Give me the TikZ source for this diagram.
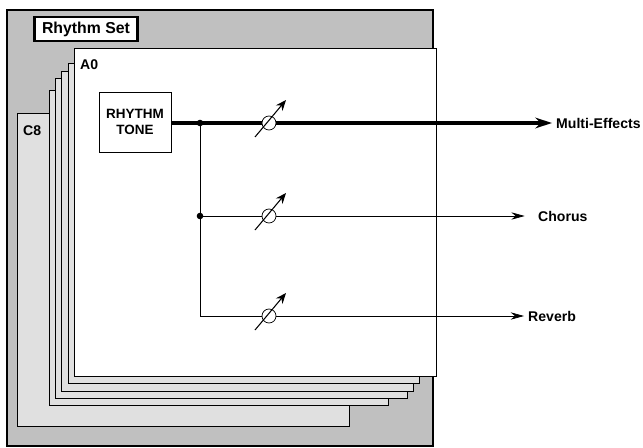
\documentclass[tikz,border=0pt]{standalone}
\usepackage{fontspec}
\setmainfont{Liberation Sans}
\usetikzlibrary{arrows.meta}
\definecolor{setgray}{HTML}{C0C0C0}
\definecolor{pagegray}{HTML}{E0E0E0}

\begin{document}
\begin{tikzpicture}[
    x=0.03cm, y=-0.03cm,
    page/.style={
        draw=black,
        fill=pagegray,
        line width=0.8pt
    },
    label/.style={
        font=\fontsize{12}{13}\selectfont\bfseries,
        anchor=west,
        inner sep=0pt
    },
    sig/.style={
        -{Stealth[length=4mm,width=2.2mm]},
        line width=0.6pt
    },
    knob/.style={
        circle,
        draw=black,
        fill=white,
        line width=0.6pt,
        minimum size=0.42cm,
        inner sep=0pt
    }
]
\useasboundingbox (0,0) rectangle (643,448);

% rhythm set frame
\draw[line width=1.4pt, fill=setgray] (7,10) rectangle (433,446);
\node[draw, line width=2pt, fill=white, font=\fontsize{13.5}{14}\selectfont\bfseries,
    minimum width=3.1cm, minimum height=0.72cm, inner sep=0pt] (setname) at (86,29) {Rhythm Set};

% stacked pages
\draw[page] (17,113) rectangle (349,426);
\draw[page] (49,90) rectangle (388,405);
\draw[page] (55,78) rectangle (407,398);
\draw[page] (61,71) rectangle (413,391);
\draw[page] (68,63) rectangle (419,383);
\draw[page, fill=white] (74,48) rectangle (436,376);
\node[label] (c8) at (23,131) {C8};
\node[label] (a0) at (80,65) {A0};

% tone block
\node[draw, line width=0.8pt, fill=white, minimum width=2.16cm, minimum height=1.8cm,
    align=center, font=\fontsize{11.5}{13}\selectfont\bfseries] (tone) at (135,122) {RHYTHM\\TONE};

% outputs
\node[label] (mfx) at (556,123) {Multi-Effects};
\node[label] (chorus) at (538,216) {Chorus};
\node[label] (reverb) at (528,316) {Reverb};

\coordinate (j1) at (200,123);
\coordinate (j2) at (200,216);
\coordinate (j3) at (200,316);

\draw[sig, line width=2.8pt, -{Stealth[length=5mm,width=3.2mm]}] (tone.east |- j1) -- ([xshift=-0.12cm]mfx.west);
\draw[sig] (j1) -- (j3) -- ([xshift=-0.12cm]reverb.west);
\draw[sig] (j2) -- ([xshift=-0.4cm]chorus.west);
\fill (j1) circle (2.8pt);
\fill (j2) circle (2.8pt);

% level knobs
\foreach \y/\n in {123/k1, 216/k2, 316/k3} {
    \node[knob] (\n) at (269,\y) {};
    \draw[-{Stealth[length=3.2mm,width=2.6mm]}, line width=0.9pt]
        ([shift={(-14,14)}]\n.center) -- ([shift={(17,-23)}]\n.center);
}
\end{tikzpicture}
\end{document}
